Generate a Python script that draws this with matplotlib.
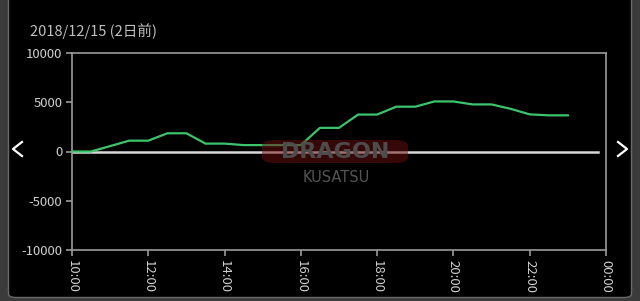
import matplotlib
matplotlib.use("Agg")
import matplotlib.pyplot as plt
from matplotlib.patches import FancyBboxPatch
from matplotlib.lines import Line2D

plt.rcParams['font.family'] = ['Noto Sans CJK JP', 'DejaVu Sans']

# data (30 minute steps)
times = ['10:00', '10:30', '11:00', '11:30', '12:00', '12:30', '13:00', '13:30', '14:00',
         '14:30', '15:00', '15:30', '16:00', '16:30', '17:00', '17:30', '18:00', '18:30',
         '19:00', '19:30', '20:00', '20:30', '21:00', '21:30', '22:00', '22:30', '23:00']
values = [0, 0, 550, 1100, 1100, 1850, 1850, 800, 800,
          650, 650, 650, 650, 2400, 2400, 3750, 3750, 4550,
          4550, 5080, 5080, 4780, 4780, 4330, 3770, 3670, 3670]
tick_hours = [10, 12, 14, 16, 18, 20, 22, 24]
tick_labels = ['10:00', '12:00', '14:00', '16:00', '18:00', '20:00', '22:00', '00:00']
y_ticks = [-10000, -5000, 0, 5000, 10000]
title = '2018/12/15 (2日前)'

hours = [int(t[:2]) + int(t[3:]) / 60 for t in times]

W, H = 640, 301
fig = plt.figure(figsize=(6.4, 3.01), dpi=100, facecolor='#3b3b3b')

# black panel with rounded bottom border
panel = FancyBboxPatch((8.5 / W, 3.5 / H), 623 / W, 320 / H,
                       boxstyle='round,pad=0,rounding_size=0.012',
                       transform=fig.transFigure, facecolor='black',
                       edgecolor='#6a6a6a', linewidth=1.0, zorder=-5)
fig.patches.append(panel)

ax = fig.add_axes([72 / W, 1 - 250 / H, (606 - 72) / W, (250 - 53) / H])
ax.set_facecolor('black')
ax.plot(hours, values, color='#3cc46c', linewidth=1.6, zorder=3)
ax.plot([10, 23.8], [0, 0], color='#d8d8d8', linewidth=1.8, zorder=2)

ax.set_xlim(10, 24)
ax.set_ylim(-10000, 10000)
ax.set_xticks(tick_hours)
ax.set_xticklabels(tick_labels, rotation=-90)
ax.set_yticks(y_ticks)
ax.set_yticklabels([str(v) for v in y_ticks])
for s in ax.spines.values():
    s.set_color('#9a9a9a')
    s.set_linewidth(1.2)
ax.tick_params(colors='#9a9a9a', labelcolor='#d0d0d0', labelsize=9.5, length=4, width=1.2,
               pad=3)

fig.text(30 / W, 1 - 31 / H, title, color='#c0c0c0', fontsize=10.5, va='center', ha='left')

# navigation arrows (thin chevrons)
fig.add_artist(Line2D([22 / W, 13 / W, 22 / W], [1 - 142 / H, 1 - 149 / H, 1 - 156 / H],
                      color='white', linewidth=1.6, transform=fig.transFigure))
fig.add_artist(Line2D([618 / W, 627 / W, 618 / W], [1 - 142 / H, 1 - 149 / H, 1 - 156 / H],
                      color='white', linewidth=1.6, transform=fig.transFigure))

# watermark
wm = FancyBboxPatch((262 / W, 1 - 163 / H), 146 / W, 23 / H,
                    boxstyle='round,pad=0,rounding_size=0.02',
                    transform=fig.transFigure, facecolor='#6a0e0e', alpha=0.5,
                    edgecolor='none', zorder=5)
fig.patches.append(wm)
fig.text(335 / W, 1 - 152 / H, 'DRAGON', color='#4c4c4c', fontsize=16, fontweight='heavy',
         ha='center', va='center', family='DejaVu Sans', zorder=6)
fig.text(336 / W, 1 - 177 / H, 'KUSATSU', color='#555555', fontsize=10.5,
         ha='center', va='center', family='DejaVu Sans', zorder=6)

fig.savefig('out.png', dpi=100, facecolor=fig.get_facecolor())
